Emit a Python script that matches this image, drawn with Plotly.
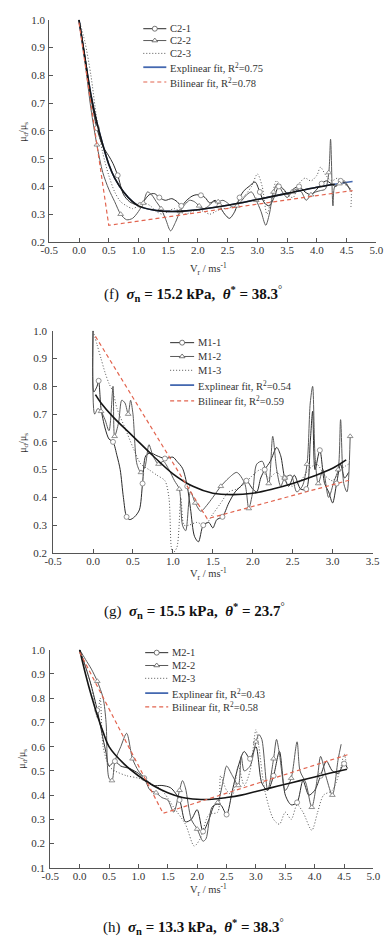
import plotly.graph_objects as go

W, H = 392, 942
SERIF = "Liberation Serif"

# ---------------- Panel (f) : C2 ----------------
c21_x = [0, 0.1, 0.2, 0.3, 0.4, 0.5, 0.57, 0.65, 0.75, 0.85, 0.95, 1.03, 1.1, 1.18, 1.27, 1.35, 1.45, 1.56, 1.65, 1.72,
         1.81, 1.9, 1.97, 2.05, 2.12, 2.2, 2.29, 2.36, 2.45, 2.53, 2.62, 2.7, 2.78, 2.86, 2.96, 3.04, 3.12, 3.2, 3.28,
         3.36, 3.44, 3.52, 3.6, 3.7, 3.8, 3.9, 4.0, 4.08, 4.16, 4.24, 4.32, 4.4, 4.48, 4.56]
c21_y = [1.0, 0.87, 0.72, 0.61, 0.545, 0.51, 0.483, 0.44, 0.37, 0.345, 0.335, 0.333, 0.35, 0.37, 0.374, 0.36, 0.35,
         0.356, 0.345, 0.33, 0.35, 0.365, 0.37, 0.368, 0.36, 0.34, 0.35, 0.33, 0.30, 0.285, 0.31, 0.36, 0.386, 0.40,
         0.416, 0.38, 0.34, 0.33, 0.36, 0.40, 0.39, 0.37, 0.39, 0.40, 0.38, 0.37, 0.39, 0.41, 0.42, 0.41, 0.40, 0.42,
         0.41, 0.39]
c22_x = [0, 0.1, 0.2, 0.3, 0.4, 0.5, 0.6, 0.7, 0.8, 0.9, 1.0, 1.08, 1.15, 1.22, 1.3, 1.38, 1.46, 1.54, 1.62, 1.7, 1.78,
         1.86, 1.94, 2.02, 2.1, 2.18, 2.26, 2.34, 2.42, 2.5, 2.58, 2.66, 2.74, 2.82, 2.9, 2.98, 3.06, 3.14, 3.2, 3.27,
         3.34, 3.42, 3.5, 3.58, 3.66, 3.74, 3.82, 3.9, 3.98, 4.06, 4.14, 4.2, 4.23, 4.27, 4.3, 4.38, 4.46, 4.56]
c22_y = [1.0, 0.85, 0.68, 0.55, 0.45, 0.39, 0.345, 0.30, 0.28, 0.285, 0.31, 0.34, 0.38, 0.37, 0.345, 0.32, 0.28, 0.24,
         0.27, 0.31, 0.335, 0.35, 0.345, 0.33, 0.32, 0.33, 0.345, 0.345, 0.35, 0.34, 0.325, 0.33, 0.35, 0.37, 0.38,
         0.35, 0.31, 0.26, 0.30, 0.38, 0.41, 0.38, 0.36, 0.38, 0.39, 0.38, 0.35, 0.37, 0.38, 0.385, 0.39, 0.45, 0.57,
         0.33, 0.40, 0.41, 0.42, 0.385]
c23_x = [0, 0.1, 0.2, 0.3, 0.4, 0.5, 0.6, 0.7, 0.8, 0.9, 1.0, 1.1, 1.2, 1.3, 1.4, 1.5, 1.6, 1.7, 1.8, 1.9, 2.0, 2.1,
         2.2, 2.3, 2.4, 2.5, 2.6, 2.7, 2.8, 2.9, 3.0, 3.08, 3.16, 3.24, 3.32, 3.4, 3.5, 3.6, 3.7, 3.8, 3.9, 4.0, 4.06,
         4.15, 4.25, 4.35, 4.45, 4.52, 4.57, 4.57]
c23_y = [1.0, 0.92, 0.80, 0.64, 0.52, 0.44, 0.38, 0.345, 0.33, 0.32, 0.33, 0.34, 0.33, 0.31, 0.30, 0.31, 0.32, 0.31,
         0.30, 0.31, 0.315, 0.31, 0.30, 0.31, 0.32, 0.32, 0.33, 0.35, 0.37, 0.40, 0.445, 0.40, 0.30, 0.36, 0.42, 0.40,
         0.37, 0.36, 0.41, 0.43, 0.42, 0.44, 0.469, 0.44, 0.42, 0.43, 0.41, 0.40, 0.39, 0.32]
f_fit_x = [0, 0.1, 0.2, 0.3, 0.4, 0.5, 0.6, 0.75, 0.9, 1.0, 1.25, 1.5, 1.75, 2.0, 2.5, 3.0, 3.5, 4.0, 4.3, 4.6]
f_fit_y = [1.0, 0.86, 0.73, 0.63, 0.55, 0.48, 0.43, 0.38, 0.345, 0.33, 0.315, 0.31, 0.311, 0.316, 0.332, 0.353,
           0.375, 0.397, 0.408, 0.418]
f_bil_x = [0, 0.5, 4.6]
f_bil_y = [0.99, 0.26, 0.385]

# ---------------- Panel (g) : M1 ----------------
m11_x = [0, 0.01, 0.05, 0.07, 0.1, 0.15, 0.2, 0.25, 0.3, 0.34, 0.38, 0.42, 0.46, 0.52, 0.58, 0.62, 0.66, 0.72, 0.8,
         0.9, 1.0, 1.05, 1.12, 1.18, 1.22, 1.27, 1.32, 1.38, 1.45, 1.5, 1.55, 1.62, 1.7, 1.78, 1.85, 1.92, 2.0, 2.05,
         2.1, 2.15, 2.22, 2.3, 2.35, 2.4, 2.45, 2.52, 2.6, 2.67, 2.72, 2.75, 2.78, 2.84, 2.9, 2.95, 3.0, 3.05, 3.1,
         3.15, 3.2]
m11_y = [1.0, 0.78, 0.80, 0.82, 0.72, 0.65, 0.61, 0.60, 0.55, 0.50, 0.40, 0.33, 0.32, 0.33, 0.355, 0.45, 0.55, 0.56,
         0.55, 0.54, 0.545, 0.53, 0.505, 0.44, 0.36, 0.26, 0.24, 0.30, 0.31, 0.29, 0.32, 0.33, 0.38, 0.42, 0.44, 0.46,
         0.43, 0.42, 0.47, 0.50, 0.53, 0.58, 0.55, 0.47, 0.44, 0.48, 0.43, 0.43, 0.60, 0.71, 0.50, 0.57, 0.45, 0.42,
         0.38, 0.45, 0.52, 0.47, 0.49]
m12_x = [0, 0.02, 0.06, 0.1, 0.15, 0.2, 0.25, 0.27, 0.32, 0.36, 0.4, 0.44, 0.47, 0.5, 0.55, 0.6, 0.65, 0.7, 0.75,
         0.82, 0.88, 0.95, 1.02, 1.08, 1.12, 1.16, 1.22, 1.28, 1.35, 1.42, 1.5, 1.6, 1.7, 1.8, 1.9, 1.95, 2.0, 2.05,
         2.12, 2.2, 2.25, 2.3, 2.35, 2.4, 2.48, 2.55, 2.62, 2.68, 2.72, 2.75, 2.78, 2.82, 2.88, 2.95, 3.02, 3.07,
         3.1, 3.14, 3.18, 3.22]
m12_y = [1.0, 0.70, 0.72, 0.71, 0.68, 0.64, 0.80, 0.62, 0.67, 0.75, 0.74, 0.70, 0.75, 0.70, 0.52, 0.49, 0.51, 0.59,
         0.55, 0.52, 0.53, 0.50, 0.46, 0.43, 0.30, 0.28, 0.42, 0.38, 0.35, 0.37, 0.40, 0.44, 0.47, 0.49, 0.45, 0.36,
         0.42, 0.52, 0.53, 0.45, 0.62, 0.50, 0.44, 0.47, 0.48, 0.42, 0.44, 0.52, 0.74, 0.80, 0.55, 0.45, 0.50, 0.40,
         0.46, 0.50, 0.68, 0.45, 0.42, 0.62]
m13_x = [0, 0.05, 0.1, 0.15, 0.2, 0.25, 0.3, 0.4, 0.5, 0.6, 0.7, 0.8, 0.9, 0.95, 0.98, 1.0, 1.05, 1.1, 1.14, 1.2,
         1.3, 1.4, 1.5, 1.6, 1.7, 1.8, 1.9, 2.0, 2.1, 2.2, 2.3, 2.4, 2.5, 2.6, 2.7, 2.8, 2.9, 3.0, 3.1, 3.2]
m13_y = [1.0, 0.95, 0.90, 0.85, 0.81, 0.78, 0.72, 0.65, 0.58, 0.52, 0.50, 0.48, 0.46, 0.40, 0.22, 0.20, 0.22, 0.40,
         0.30, 0.30, 0.31, 0.30, 0.34, 0.38, 0.42, 0.43, 0.45, 0.48, 0.50, 0.47, 0.49, 0.46, 0.44, 0.46, 0.50, 0.52,
         0.48, 0.46, 0.50, 0.52]
g_fit_x = [0.03, 0.1, 0.25, 0.5, 0.75, 1.0, 1.25, 1.5, 1.75, 2.0, 2.25, 2.5, 2.75, 3.0, 3.17]
g_fit_y = [0.77, 0.74, 0.69, 0.62, 0.55, 0.485, 0.44, 0.415, 0.41, 0.415, 0.43, 0.45, 0.475, 0.505, 0.535]
g_bil_x = [0.03, 1.43, 3.22]
g_bil_y = [0.98, 0.323, 0.463]

# ---------------- Panel (h) : M2 ----------------
m21_x = [0, 0.1, 0.2, 0.3, 0.4, 0.45, 0.5, 0.6, 0.7, 0.85, 1.0, 1.1, 1.25, 1.4, 1.55, 1.7, 1.8, 1.9, 2.0, 2.1, 2.2,
         2.3, 2.4, 2.5, 2.6, 2.7, 2.8, 2.9, 3.0, 3.1, 3.2, 3.3, 3.4, 3.5, 3.6, 3.7, 3.8, 3.9, 4.0, 4.1, 4.2, 4.3, 4.4,
         4.5, 4.56]
m21_y = [1.0, 0.93, 0.85, 0.75, 0.63, 0.575, 0.52, 0.54, 0.52, 0.51, 0.49, 0.47, 0.44, 0.44, 0.43, 0.38, 0.29, 0.30,
         0.34, 0.25, 0.30, 0.36, 0.36, 0.32, 0.42, 0.52, 0.58, 0.55, 0.60, 0.45, 0.42, 0.48, 0.58, 0.40, 0.36, 0.37,
         0.46, 0.40, 0.42, 0.48, 0.54, 0.50, 0.49, 0.53, 0.51]
m22_x = [0, 0.1, 0.2, 0.3, 0.4, 0.45, 0.5, 0.55, 0.6, 0.7, 0.8, 0.9, 1.0, 1.1, 1.2, 1.3, 1.4, 1.5, 1.6, 1.7, 1.75,
         1.8, 1.9, 2.0, 2.1, 2.15, 2.25, 2.35, 2.45, 2.5, 2.6, 2.7, 2.75, 2.8, 2.9, 3.0, 3.05, 3.1, 3.2, 3.3, 3.35,
         3.4, 3.5, 3.6, 3.7, 3.75, 3.85, 3.95, 4.05, 4.1, 4.2, 4.3, 4.4, 4.45]
m22_y = [1.0, 0.96, 0.92, 0.87, 0.80, 0.70, 0.47, 0.46, 0.54, 0.60, 0.655, 0.55, 0.50, 0.47, 0.42, 0.41, 0.39, 0.38,
         0.33, 0.42, 0.46, 0.43, 0.30, 0.26, 0.21, 0.22, 0.35, 0.37, 0.47, 0.52, 0.48, 0.44, 0.56, 0.50, 0.52, 0.62,
         0.65, 0.63, 0.42, 0.55, 0.63, 0.57, 0.42, 0.47, 0.62, 0.50, 0.45, 0.35, 0.48, 0.56, 0.47, 0.40, 0.55, 0.61]
m23_x = [0, 0.1, 0.2, 0.3, 0.35, 0.4, 0.5, 0.6, 0.8, 1.0, 1.2, 1.4, 1.6, 1.8, 1.95, 2.05, 2.2, 2.35, 2.4, 2.5, 2.6,
         2.7, 2.8, 2.9, 3.0, 3.05, 3.15, 3.3, 3.4, 3.5, 3.6, 3.7, 3.8, 3.95, 4.05, 4.15, 4.3, 4.45, 4.5, 4.55]
m23_y = [1.0, 0.93, 0.85, 0.72, 0.80, 0.60, 0.52, 0.50, 0.48, 0.47, 0.45, 0.42, 0.35, 0.28, 0.19, 0.22, 0.32, 0.33,
         0.48, 0.42, 0.40, 0.52, 0.44, 0.50, 0.67, 0.60, 0.42, 0.30, 0.28, 0.33, 0.30, 0.36, 0.33, 0.255, 0.33, 0.40,
         0.42, 0.52, 0.57, 0.51]
h_fit_x = [0, 0.1, 0.2, 0.3, 0.4, 0.5, 0.75, 1.0, 1.25, 1.5, 1.75, 2.0, 2.25, 2.5, 2.75, 3.0, 3.25, 3.5, 3.75, 4.0,
           4.25, 4.55]
h_fit_y = [1.0, 0.90, 0.81, 0.73, 0.66, 0.60, 0.53, 0.48, 0.44, 0.41, 0.39, 0.383, 0.383, 0.39, 0.40, 0.415, 0.43,
           0.445, 0.46, 0.475, 0.49, 0.507]
h_bil_x = [0, 1.42, 4.6]
h_bil_y = [0.99, 0.325, 0.57]

# tick values
x_ticks_f = [-0.5, 0.0, 0.5, 1.0, 1.5, 2.0, 2.5, 3.0, 3.5, 4.0, 4.5, 5.0]
x_ticks_g = [-0.5, 0.0, 0.5, 1.0, 1.5, 2.0, 2.5, 3.0, 3.5]
y_ticks_fg = [0.2, 0.3, 0.4, 0.5, 0.6, 0.7, 0.8, 0.9, 1.0]
y_ticks_h = [0.1, 0.2, 0.3, 0.4, 0.5, 0.6, 0.7, 0.8, 0.9, 1.0]

panels = [
    dict(series=[(c21_x, c21_y), (c22_x, c22_y), (c23_x, c23_y)], names=["C2-1", "C2-2", "C2-3"],
         fit=(f_fit_x, f_fit_y), bil=(f_bil_x, f_bil_y), r2=("0.75", "0.78"),
         box=(42, 383, 14, 239), xr=(-0.5, 5.0), yr=(0.2, 1.0), xt=x_ticks_f, yt=y_ticks_fg, ysd=1,
         leg=dict(x0=140, x1=164, tx=166, rows=[23, 35, 48, 62, 77]),
         ytitle=(15, 127), xtitle=(208, 266),
         caption=(192, 292, "(f)", "15.2", "38.3"), blue_tail=4.3),
    dict(series=[(m11_x, m11_y), (m12_x, m12_y), (m13_x, m13_y)], names=["M1-1", "M1-2", "M1-3"],
         fit=(g_fit_x, g_fit_y), bil=(g_bil_x, g_bil_y), r2=("0.54", "0.59"),
         box=(46, 379, 329, 554), xr=(-0.5, 3.5), yr=(0.2, 1.0), xt=x_ticks_g, yt=y_ticks_fg, ysd=3,
         leg=dict(x0=168, x1=193, tx=195, rows=[341, 355, 369, 384, 400]),
         ytitle=(15, 442), xtitle=(208, 575),
         caption=(193, 613, "(g)", "15.5", "23.7"), blue_tail=None),
    dict(series=[(m21_x, m21_y), (m22_x, m22_y), (m23_x, m23_y)], names=["M2-1", "M2-2", "M2-3"],
         fit=(h_fit_x, h_fit_y), bil=(h_bil_x, h_bil_y), r2=("0.43", "0.58"),
         box=(43, 380, 652, 873), xr=(-0.5, 5.0), yr=(0.1, 1.0), xt=x_ticks_f, yt=y_ticks_h, ysd=2,
         leg=dict(x0=142, x1=166, tx=168, rows=[655, 668, 681, 696, 710]),
         ytitle=(14, 762), xtitle=(208, 895),
         caption=(192, 933, "(h)", "13.3", "38.3"), blue_tail=None),
]

S1 = "#2a2a2a"
S2 = "#5a5a5a"
S3 = "#555555"
BLUE = "#4468b0"
RED = "#e2644f"
FIT = "#151515"
AX = "#555555"
TXT = "#333333"
DOT = "1px,2px"

fig = go.Figure()
layout = dict(width=W, height=H, margin=dict(l=0, r=0, t=0, b=0), paper_bgcolor="white",
              plot_bgcolor="rgba(0,0,0,0)", showlegend=False)
annotations = []

# overlay pixel-frame axes for legends
layout["xaxis4"] = dict(domain=[0, 1], range=[0, W], visible=False, fixedrange=True, anchor="y4")
layout["yaxis4"] = dict(domain=[0, 1], range=[H, 0], visible=False, fixedrange=True, anchor="x4")

for i, p in enumerate(panels, start=1):
    xa, ya = f"x{i}" if i > 1 else "x", f"y{i}" if i > 1 else "y"
    x0, x1, yt_px, yb_px = p["box"]
    axkw = dict(showline=True, linecolor=AX, linewidth=1, ticks="inside", ticklen=4, tickcolor=AX,
                showgrid=False, zeroline=False, tickfont=dict(family=SERIF, size=11, color=TXT), fixedrange=True)
    layout[f"xaxis{i}"] = dict(domain=[x0 / W, x1 / W], range=list(p["xr"]), anchor=ya, ticklabelstandoff=-2,
                              tickvals=p["xt"], ticktext=[f"{v:.1f}" for v in p["xt"]], **axkw)
    layout[f"yaxis{i}"] = dict(domain=[1 - yb_px / H, 1 - yt_px / H], range=list(p["yr"]), anchor=xa,
                              ticklabelstandoff=p["ysd"],
                              tickvals=p["yt"], ticktext=[f"{v:.1f}" for v in p["yt"]], **axkw)

    fx, fy = p["fit"]
    bx, by = p["bil"]
    if p["blue_tail"] is not None:
        fig.add_trace(go.Scatter(x=fx, y=fy, mode="lines", line=dict(color=BLUE, width=1.6, shape="spline"),
                                 xaxis=xa, yaxis=ya))
    styles = [dict(color=S1, width=1.0, dash="solid"), dict(color=S2, width=1.0, dash="solid"),
              dict(color=S3, width=1.0, dash=DOT)]
    for k, (sx, sy) in enumerate(p["series"]):
        fig.add_trace(go.Scatter(x=sx, y=sy, mode="lines",
                                 line=dict(shape="spline", smoothing=0.8, **styles[k]), xaxis=xa, yaxis=ya))
    for k, sym in [(0, "circle"), (1, "triangle-up")]:
        sx, sy = p["series"][k]
        fig.add_trace(go.Scatter(x=sx[3::4], y=sy[3::4], mode="markers",
                                 marker=dict(symbol=sym, size=5, color="white", line=dict(color="#777", width=0.8)),
                                 xaxis=xa, yaxis=ya))
    if p["blue_tail"] is not None:
        kx = [v for v in fx if v <= p["blue_tail"]]
        ky = fy[:len(kx)]
    else:
        kx, ky = fx, fy
    fig.add_trace(go.Scatter(x=kx, y=ky, mode="lines", line=dict(color=FIT, width=1.6, shape="spline"),
                             xaxis=xa, yaxis=ya))
    fig.add_trace(go.Scatter(x=bx, y=by, mode="lines", line=dict(color=RED, width=1.2, dash="4px,3px"),
                             xaxis=xa, yaxis=ya))

    # legend (pixel frame)
    lg = p["leg"]
    leg_styles = [dict(color=S1, width=1.0, dash="solid"), dict(color=S2, width=1.0, dash="solid"),
                  dict(color=S3, width=1.0, dash=DOT), dict(color=BLUE, width=1.8, dash="solid"),
                  dict(color=RED, width=1.2, dash="4px,3px")]
    labels = p["names"] + [f"Explinear fit, R<sup>2</sup>={p['r2'][0]}", f"Bilinear fit, R<sup>2</sup>={p['r2'][1]}"]
    for r, (ry, st, lab) in enumerate(zip(lg["rows"], leg_styles, labels)):
        fig.add_trace(go.Scatter(x=[lg["x0"], lg["x1"]], y=[ry, ry], mode="lines", line=st,
                                 xaxis="x4", yaxis="y4"))
        if r < 2:
            fig.add_trace(go.Scatter(x=[(lg["x0"] + lg["x1"]) / 2], y=[ry], mode="markers",
                                     marker=dict(symbol="circle" if r == 0 else "triangle-up", size=5, color="white",
                                                 line=dict(color="#555", width=0.8)),
                                     xaxis="x4", yaxis="y4"))
        annotations.append(dict(x=lg["tx"], y=ry, xref="x4", yref="y4", text=lab, showarrow=False,
                                xanchor="left", yanchor="middle", font=dict(family=SERIF, size=10.5, color=TXT)))

    annotations.append(dict(x=p["ytitle"][0], y=p["ytitle"][1], xref="x4", yref="y4",
                            text="μ<sub>d</sub>/μ<sub>s</sub>", textangle=-90, showarrow=False,
                            font=dict(family=SERIF, size=10, color=TXT)))
    annotations.append(dict(x=p["xtitle"][0], y=p["xtitle"][1], xref="x4", yref="y4",
                            text="V<sub>r</sub> / ms<sup>-1</sup>", showarrow=False,
                            font=dict(family=SERIF, size=10.5, color=TXT)))
    cx, cy, tag, sig, th = p["caption"]
    nb = "\u00a0"
    cap = (f"{tag}{nb}{nb}<b><i>σ</i><sub>n</sub>{nb}={nb}{sig}{nb}kPa,{nb}{nb}"
           f"<i>θ</i><sup>*</sup>{nb}={nb}{th}</b><sup>°</sup>")
    annotations.append(dict(x=cx, y=cy, xref="x4", yref="y4", text=cap, showarrow=False,
                            font=dict(family=SERIF, size=15, color="#111")))

layout["annotations"] = annotations
fig.update_layout(**layout)
fig.write_html("out.html")
